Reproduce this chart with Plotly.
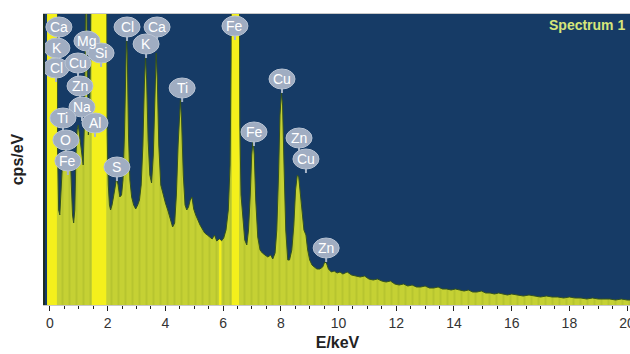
import numpy as np
import plotly.graph_objects as go

# ---------------- data ----------------
energy_keV = [
    -0.10, 0.24, 0.26, 0.30, 0.34, 0.37, 0.42, 0.48, 0.53, 0.58, 0.63, 0.68, 0.71, 0.74, 0.78,
    0.82, 0.86, 0.90, 0.94, 0.98, 1.02, 1.06, 1.10, 1.15, 1.20, 1.24, 1.26, 1.29, 1.33, 1.38,
    1.43, 1.45, 1.95, 1.98, 2.02, 2.06, 2.10,
    2.15, 2.20, 2.25, 2.31, 2.36, 2.42, 2.48, 2.53, 2.58, 2.62, 2.65, 2.68, 2.72, 2.77, 2.83,
    2.90, 2.97, 3.04, 3.10, 3.16, 3.22, 3.27, 3.31, 3.35, 3.40, 3.46, 3.52, 3.58, 3.63, 3.68,
    3.72, 3.77, 3.84, 3.92, 4.00, 4.08, 4.16, 4.25, 4.32, 4.38, 4.44, 4.49, 4.52, 4.56, 4.62,
    4.68, 4.74, 4.80, 4.86, 4.92, 4.98,
    5.05, 5.12, 5.20, 5.28, 5.36, 5.45, 5.55, 5.62, 5.70, 5.78, 5.86, 5.94, 6.02, 6.10, 6.18,
    6.24, 6.28, 6.30, 6.55, 6.58, 6.62, 6.68, 6.75, 6.82, 6.88, 6.94, 6.99, 7.04, 7.08, 7.13,
    7.20, 7.28, 7.36,
    7.45, 7.55, 7.65, 7.72, 7.80, 7.86, 7.92, 7.97, 8.02, 8.06, 8.11, 8.17, 8.24, 8.30, 8.38,
    8.45, 8.51, 8.57, 8.62, 8.68, 8.74, 8.80, 8.87, 8.93, 9.00, 9.08, 9.16, 9.25, 9.35, 9.45,
    9.52, 9.58, 9.65, 9.75, 9.85, 9.95, 10.05,
    10.15, 10.30, 10.45, 10.60, 10.75, 10.90, 11.05, 11.20, 11.35, 11.50, 11.65, 11.80, 11.95,
    12.10, 12.25, 12.40, 12.55, 12.70, 12.85, 13.00, 13.15, 13.30, 13.45, 13.60, 13.75, 13.90,
    14.05, 14.20, 14.35, 14.50, 14.65, 14.80, 14.95, 15.10, 15.25, 15.40, 15.55, 15.70, 15.85,
    16.00, 16.20, 16.40, 16.60, 16.80, 17.00, 17.20, 17.40, 17.60, 17.80, 18.00, 18.20, 18.40,
    18.60, 18.80, 19.00, 19.20, 19.40, 19.60, 19.80, 20.00, 20.10,
]
counts = [
    400, 400, 160, 95, 90, 105, 135, 150, 160, 145, 150, 140, 145, 120, 90,
    82, 95, 150, 175, 180, 170, 165, 150, 140, 190, 400, 400, 230, 170, 200,
    260, 400, 400, 170, 120, 100, 95,
    100, 108, 115, 127, 120, 108, 110, 125, 170, 240, 268, 250, 170, 125, 108,
    100, 96, 100, 105, 120, 160, 220, 248, 225, 165, 130, 122, 150, 215, 252,
    225, 160, 120, 110, 102, 95, 88, 78, 82, 110, 160, 198, 205, 185, 130,
    100, 95, 98, 105, 108, 96,
    90, 85, 80, 76, 72, 70, 68, 66, 70, 64, 66, 64, 67, 75, 95,
    140, 250, 400, 400, 180, 110, 85, 65, 60, 75, 110, 150, 165, 150, 105,
    68, 55, 52,
    50, 48, 50, 46, 52, 75, 130, 190, 212, 200, 140, 75, 45, 45, 55,
    80, 115, 130, 128, 110, 88, 75, 70, 55, 45, 40, 38, 36, 36, 38,
    43, 42, 36, 33, 34, 32, 33,
    31, 33, 30, 29, 28, 29, 26, 25, 26, 24, 23, 24, 21,
    20, 21, 19, 20, 18, 18, 19, 17, 17, 18, 16, 16, 15,
    16, 15, 14, 15, 13, 13, 14, 12, 12, 11, 12, 11, 10,
    11, 10, 9, 10, 9, 8, 9, 8, 8, 7, 8, 7, 7,
    6, 7, 6, 6, 6, 5, 6, 5, 5,
]

# highlighted (region-of-interest) bands, keV
band_lo = [-0.10, 1.45, 5.86, 6.30]
band_hi = [0.24, 1.95, 5.94, 6.55]

# element labels: name, energy (keV), label height (cps units)
label_names = ["Ca", "K", "Cl", "Mg", "Si", "Cu", "Zn", "Na", "Ti", "Al", "O", "Fe", "S",
               "Cl", "Ca", "K", "Ti", "Fe", "Cu", "Fe", "Zn", "Cu", "Zn"]
label_energy = [0.31, 0.24, 0.21, 1.28, 1.77, 0.97, 1.04, 1.11, 0.45, 1.56, 0.55, 0.62, 2.32,
                2.67, 3.71, 3.33, 4.58, 6.41, 8.04, 7.07, 8.63, 8.87, 9.57]
label_height = [278, 257, 237, 264, 252, 242, 219, 198, 187, 182, 165, 144, 138,
                278, 278, 261, 217, 279, 226, 173, 167, 146, 57]

x_ticks = [0, 2, 4, 6, 8, 10, 12, 14, 16, 18, 20]

# ---------------- figure ----------------
E = np.array(energy_keV)
C = np.array(counts)
FONT = "Liberation Sans, Arial, sans-serif"

fig = go.Figure()
fig.add_trace(go.Scatter(
    x=E, y=C, mode="lines", fill="tozeroy",
    fillcolor="#c3cf33",
    fillpattern=dict(shape="|", bgcolor="#c5d134", fgcolor="#a9b92a", size=7, solidity=0.3),
    line=dict(color="#34521f", width=1),
    hoverinfo="skip", showlegend=False,
))
for lo, hi in zip(band_lo, band_hi):
    m = (E >= lo) & (E <= hi)
    fig.add_trace(go.Scatter(
        x=E[m], y=C[m], mode="lines", fill="tozeroy",
        fillcolor="#f4f01c", line=dict(color="#f4f01c", width=0),
        hoverinfo="skip", showlegend=False,
    ))

shapes = []
annotations = []
for name, ex, hy in zip(label_names, label_energy, label_height):
    shapes.append(dict(
        type="line", xref="x", yref="y", xsizemode="pixel", ysizemode="pixel",
        xanchor=ex, yanchor=hy, x0=0, x1=0, y0=-8, y1=-14,
        line=dict(color="#a9b6c9", width=2), layer="above",
    ))
    shapes.append(dict(
        type="circle", xref="x", yref="y", xsizemode="pixel", ysizemode="pixel",
        xanchor=ex, yanchor=hy, x0=-13, x1=13, y0=-10, y1=10,
        fillcolor="#a0adc2", line=dict(color="#b8c3d3", width=1), layer="above",
    ))
    annotations.append(dict(
        x=ex, y=hy, xref="x", yref="y", text=name, showarrow=False,
        font=dict(family=FONT, size=14, color="#ffffff"),
    ))

annotations.append(dict(
    x=0.995, y=1, xref="paper", yref="paper", xanchor="right", yanchor="top",
    yshift=-1, text="<b>Spectrum 1</b>", showarrow=False,
    font=dict(family=FONT, size=14, color="#d6e67a"),
))

fig.update_layout(
    width=630, height=354,
    margin=dict(l=45, r=0, t=14, b=49),
    paper_bgcolor="#ffffff", plot_bgcolor="#163b66",
    shapes=shapes, annotations=annotations,
    xaxis=dict(
        range=[-0.173, 20.10], tickvals=x_ticks, ticks="outside", ticklen=5, tickwidth=1,
        tickcolor="#222222", showgrid=False, zeroline=False, automargin=False,
        ticklabeloverflow="allow",
        showline=True, linecolor="#c8c8c8", linewidth=1, mirror=True,
        minor=dict(dtick=0.5, tick0=0, ticks="outside", ticklen=3, tickcolor="#222222", showgrid=False),
        tickfont=dict(family=FONT, size=14, color="#333333"),
        title=dict(text="<b>E/keV</b>", standoff=7,
                   font=dict(family=FONT, size=16, color="#222222")),
    ),
    yaxis=dict(
        range=[0, 291], showticklabels=False, ticks="", showgrid=False, zeroline=False,
        automargin=False,
        showline=True, linecolor="#1c2e22", linewidth=2,
        title=dict(text="<b>cps/eV</b>", standoff=15,
                   font=dict(family=FONT, size=16, color="#222222")),
    ),
)

fig.write_html(
    "out.html",
    config={"displayModeBar": False},
    post_script="document.body.style.margin='0';document.body.style.overflow='hidden';",
)
